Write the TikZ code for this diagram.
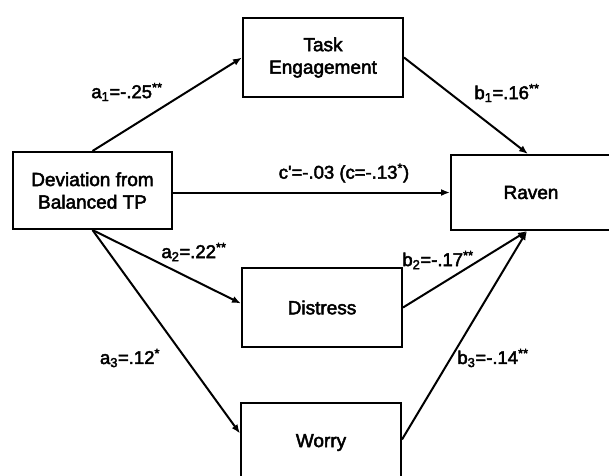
\documentclass[tikz,border=0pt]{standalone}
\usepackage{fontspec}
\setmainfont{Liberation Sans}
\newfontfamily\heavyfont{Liberation Sans}[FakeBold=2.5]
\usetikzlibrary{arrows.meta,calc}
\begin{document}
\begin{tikzpicture}[x=1pt,y=-1pt,
  box/.style={draw=black,line width=2pt,minimum width=160pt,minimum height=78pt,inner sep=0pt,align=center,font=\heavyfont\fontsize{19}{22.5}\selectfont},
  conn/.style={line width=2pt,-{Latex[length=9pt,width=7pt]}},
  lab/.style={inner sep=0pt,font=\heavyfont\fontsize{18.5}{21}\selectfont}]
\useasboundingbox (0,0) rectangle (609,475);
\fill[white] (0,0) rectangle (609,475);
\node[box,minimum width=159pt,minimum height=77pt] (dev) at (92.5,190.5) {Deviation from\\Balanced TP};
\node[box,minimum height=79pt] (task) at (323,57.5) {Task\\Engagement};
\node[box,minimum height=75pt] (raven) at (531,192.5) {Raven};
\node[box,minimum height=79pt] (dist) at (322,307.5) {Distress};
\node[box,minimum height=79pt] (worry) at (321,442.5) {Worry};
\draw[conn] (dev.north) -- (task.west);
\draw[conn] (task.east) -- ($(raven.north)+(-3,0)$);
\draw[conn] ($(dev.east)+(0,2)$) -- (raven.west);
\draw[conn] (dev.south) -- ($(dist.west)+(0,-4)$);
\draw[conn] (dev.south) -- ($(worry.west)+(0,-9)$);
\draw[conn] (dist.east) -- ($(raven.south)+(-4,0)$);
\draw[conn] ($(worry.east)+(0,-3)$) -- ($(raven.south)+(-4,0)$);
\node[lab] (la1) at (127,92) {a\textsubscript{1}=-.25\textsuperscript{**}};
\node[lab] (lb1) at (507,93) {b\textsubscript{1}=.16\textsuperscript{**}};
\node[lab] (lc) at (344,173) {c'=-.03 (c=-.13\textsuperscript{*})};
\node[lab] (la2) at (194,252) {a\textsubscript{2}=.22\textsuperscript{**}};
\node[lab] (lb2) at (438,260) {b\textsubscript{2}=-.17\textsuperscript{**}};
\node[lab] (la3) at (130,358) {a\textsubscript{3}=.12\textsuperscript{*}};
\node[lab] (lb3) at (493,358) {b\textsubscript{3}=-.14\textsuperscript{**}};
\end{tikzpicture}
\end{document}
